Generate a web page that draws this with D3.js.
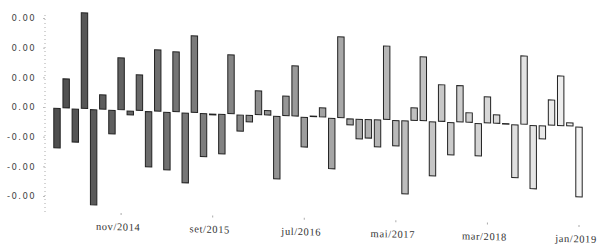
<!DOCTYPE html>
<html>
<head>
<meta charset="utf-8">
<script src="https://d3js.org/d3.v7.min.js"></script>
<style>
  body { margin: 0; background: #fff; }
  svg { display: block; }
</style>
</head>
<body>
<script type="text/javascript">

// monthly categories, abr/2014 .. jan/2019
var months = [
  "abr/2014","mai/2014","jun/2014","jul/2014","ago/2014","set/2014","out/2014","nov/2014","dez/2014",
  "jan/2015","fev/2015","mar/2015","abr/2015","mai/2015","jun/2015","jul/2015","ago/2015","set/2015","out/2015","nov/2015","dez/2015",
  "jan/2016","fev/2016","mar/2016","abr/2016","mai/2016","jun/2016","jul/2016","ago/2016","set/2016","out/2016","nov/2016","dez/2016",
  "jan/2017","fev/2017","mar/2017","abr/2017","mai/2017","jun/2017","jul/2017","ago/2017","set/2017","out/2017","nov/2017","dez/2017",
  "jan/2018","fev/2018","mar/2018","abr/2018","mai/2018","jun/2018","jul/2018","ago/2018","set/2018","out/2018","nov/2018","dez/2018",
  "jan/2019"
];

// one value per month
var values = [
  -0.00133, 0.00097, -0.00111, 0.00322, -0.00321, 0.00048, -0.00079, 0.00175, -0.00013, 0.00120,
  -0.00186, 0.00206, -0.00194, 0.00202, -0.00235, 0.00258, -0.00145, -0.00003, -0.00133, 0.00198,
  -0.00054, -0.00022, 0.00080, 0.00015, -0.00211, 0.00066, 0.00169, -0.00100, 0.00002, 0.00031,
  -0.00170, 0.00272, -0.00020, -0.00066, -0.00062, -0.00091, 0.00247, -0.00085, -0.00246, 0.00042,
  0.00215, -0.00182, 0.00123, -0.00109, 0.00122, 0.00032, -0.00109, 0.00088, 0.00028, 0.00000,
  -0.00178, 0.00230, -0.00213, -0.00044, 0.00085, 0.00167, 0.00010, -0.00235
];

var xTickLabels = ["nov/2014","set/2015","jul/2016","mai/2017","mar/2018","jan/2019"];

var yTicks = [0.003, 0.002, 0.001, 0, -0.001, -0.002, -0.003];
var yTickLabels = ["0.00","0.00","0.00","0.00","-0.00","-0.00","-0.00"];

var width = 597,
    height = 246,
    axisX = 45;

var data = months.map(function(m, i) { return {month: m, value: values[i], i: i}; });

var svg = d3.select("body").append("svg")
    .attr("width", width)
    .attr("height", height);

var step = 522 / 57;
var x = d3.scaleBand()
    .domain(months)
    .range([57 - step / 2, 579 + step / 2])
    .paddingInner(0.3)
    .paddingOuter(0.15);

var y = d3.scaleLinear()
    .domain([-0.003, 0.003])
    .range([196, 18]);

var shade = d3.scaleLinear()
    .domain([0, months.length - 1])
    .range(["#4e4e4e", "#f4f4f4"]);

// y axis (dotted line + labels)
svg.append("line")
    .attr("x1", axisX).attr("x2", axisX)
    .attr("y1", 15).attr("y2", 213)
    .attr("stroke", "#aaa")
    .attr("stroke-width", 1)
    .attr("stroke-dasharray", "1,3");

var yAxis = svg.append("g")
    .attr("transform", "translate(" + axisX + ",0)")
    .call(d3.axisLeft(y)
        .tickValues(yTicks)
        .tickSize(2)
        .tickPadding(7)
        .tickFormat(function(d, i) { return yTickLabels[i]; }));
yAxis.select(".domain").remove();
yAxis.selectAll(".tick line").attr("stroke", "#bbb");
yAxis.selectAll("text")
    .attr("fill", "#444")
    .style("font-family", "DejaVu Sans, sans-serif")
    .style("font-size", "8.5px")
    .style("letter-spacing", "1.4px");

// the scan is slightly tilted: bars drop to the right
var plot = svg.append("g")
    .attr("transform", "translate(" + axisX + ",0) skewY(2.06) translate(" + (-axisX) + ",0)");

plot.selectAll(".bar")
    .data(data)
  .enter().append("rect")
    .attr("class", "bar")
    .attr("x", function(d) { return x(d.month); })
    .attr("width", x.bandwidth())
    .attr("y", function(d) { return d.value >= 0 ? y(d.value) : y(0) + 1; })
    .attr("height", function(d) { return Math.max(0.6, Math.abs(y(d.value) - y(0))); })
    .attr("fill", function(d) { return shade(d.i); })
    .attr("stroke", "#222")
    .attr("stroke-width", 1);

// x axis labels
var xg = svg.append("g")
    .attr("transform", "translate(" + axisX + ",0) skewY(1.5) translate(" + (-axisX) + ",211)");

xg.call(d3.axisBottom(x)
    .tickValues(xTickLabels)
    .tickSize(2)
    .tickPadding(8));
xg.select(".domain").remove();
xg.selectAll(".tick line").attr("stroke", "#aaa");
xg.selectAll("text")
    .attr("fill", "#333")
    .attr("dx", -3)
    .style("font-family", "Liberation Serif, serif")
    .style("font-size", "10.5px")
    .style("letter-spacing", "0.6px");

</script>
</body>
</html>
